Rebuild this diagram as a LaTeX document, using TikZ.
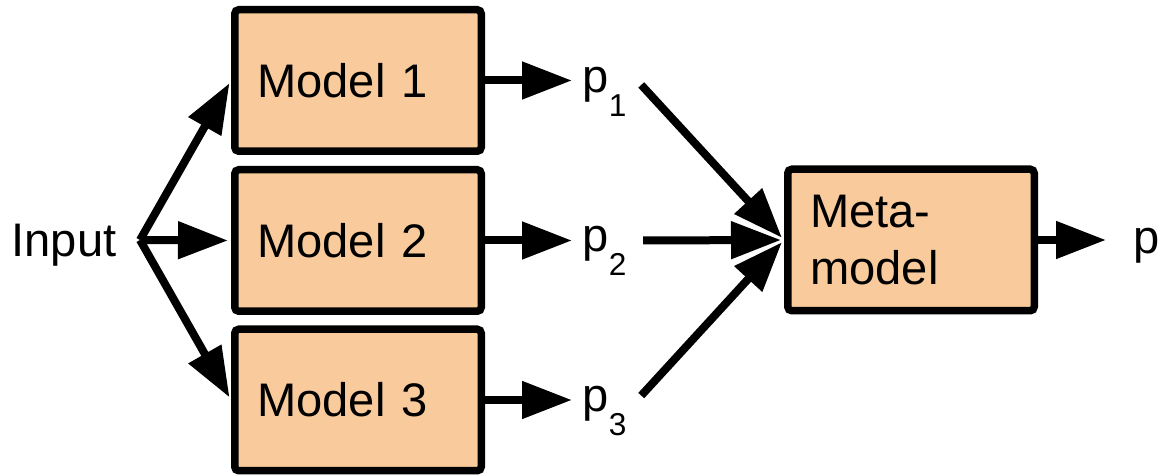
\documentclass[tikz,border=0pt]{standalone}
\usepackage{fontspec}
\setmainfont{Liberation Sans}
\usetikzlibrary{arrows.meta,positioning,calc}
\definecolor{boxfill}{HTML}{F9CB9C}
\newcommand{\pidx}[1]{\raisebox{-2.4mm}{\fontsize{9pt}{10pt}\selectfont #1}}

\begin{document}
\begin{tikzpicture}
  [x=0.1mm,y=-0.1mm,font=\fontsize{13.4pt}{16.2pt}\selectfont,
   model/.style={draw=black, fill=boxfill, line width=0.75mm, rounded corners=0.4mm,
     minimum width=24.65mm, minimum height=14.15mm, text width=20.15mm, inner xsep=2.25mm, align=left},
   prob/.style={anchor=base west, inner xsep=1mm}]
  \useasboundingbox (0,0) rectangle (1170,476);

  \node [anchor=base west, inner sep=0] (input) at (11,257) {Input};
  \coordinate (fan) at (140,240);

  \node [model] (m1) at (358,80.5) {Model 1};
  \node [model] (m2) at (358,240.5) {Model 2};
  \node [model] (m3) at (358,400) {Model 3};

  \node [prob] (p1) at (572,93) {p\pidx{1}};
  \node [prob] (p2) at (572,252) {p\pidx{2}};
  \node [prob] (p3) at (572,412) {p\pidx{3}};

  \node [model] (meta) at (911,240) {Meta-\\model};
  \node [prob] (pout) at (1123,254) {p};

  \path [-{Triangle[length=5mm,width=3.6mm]}] [line width=0.8mm]
  (fan) edge [shorten >=0.3mm] (m1.west)
  (fan) edge [shorten >=0.3mm] (m2.west)
  (fan) edge [shorten >=0.3mm] (m3.west)

  (m1.east) edge (m1.east -| p1.west)
  (m2.east) edge (m2.east -| p2.west)
  (m3.east) edge (m3.east -| p3.west)

  (p1.east |- m1.east) edge [shorten <=0.6mm, shorten >=0.3mm] (meta.west)
  (p2.east |- m2.east) edge [shorten <=0.6mm, shorten >=0.3mm] (meta.west)
  (p3.east |- m3.east) edge [shorten <=0.6mm, shorten >=0.3mm] (meta.west)

  (meta.east) edge [shorten >=1.7mm] (meta.east -| pout.west);

\end{tikzpicture}
\end{document}
